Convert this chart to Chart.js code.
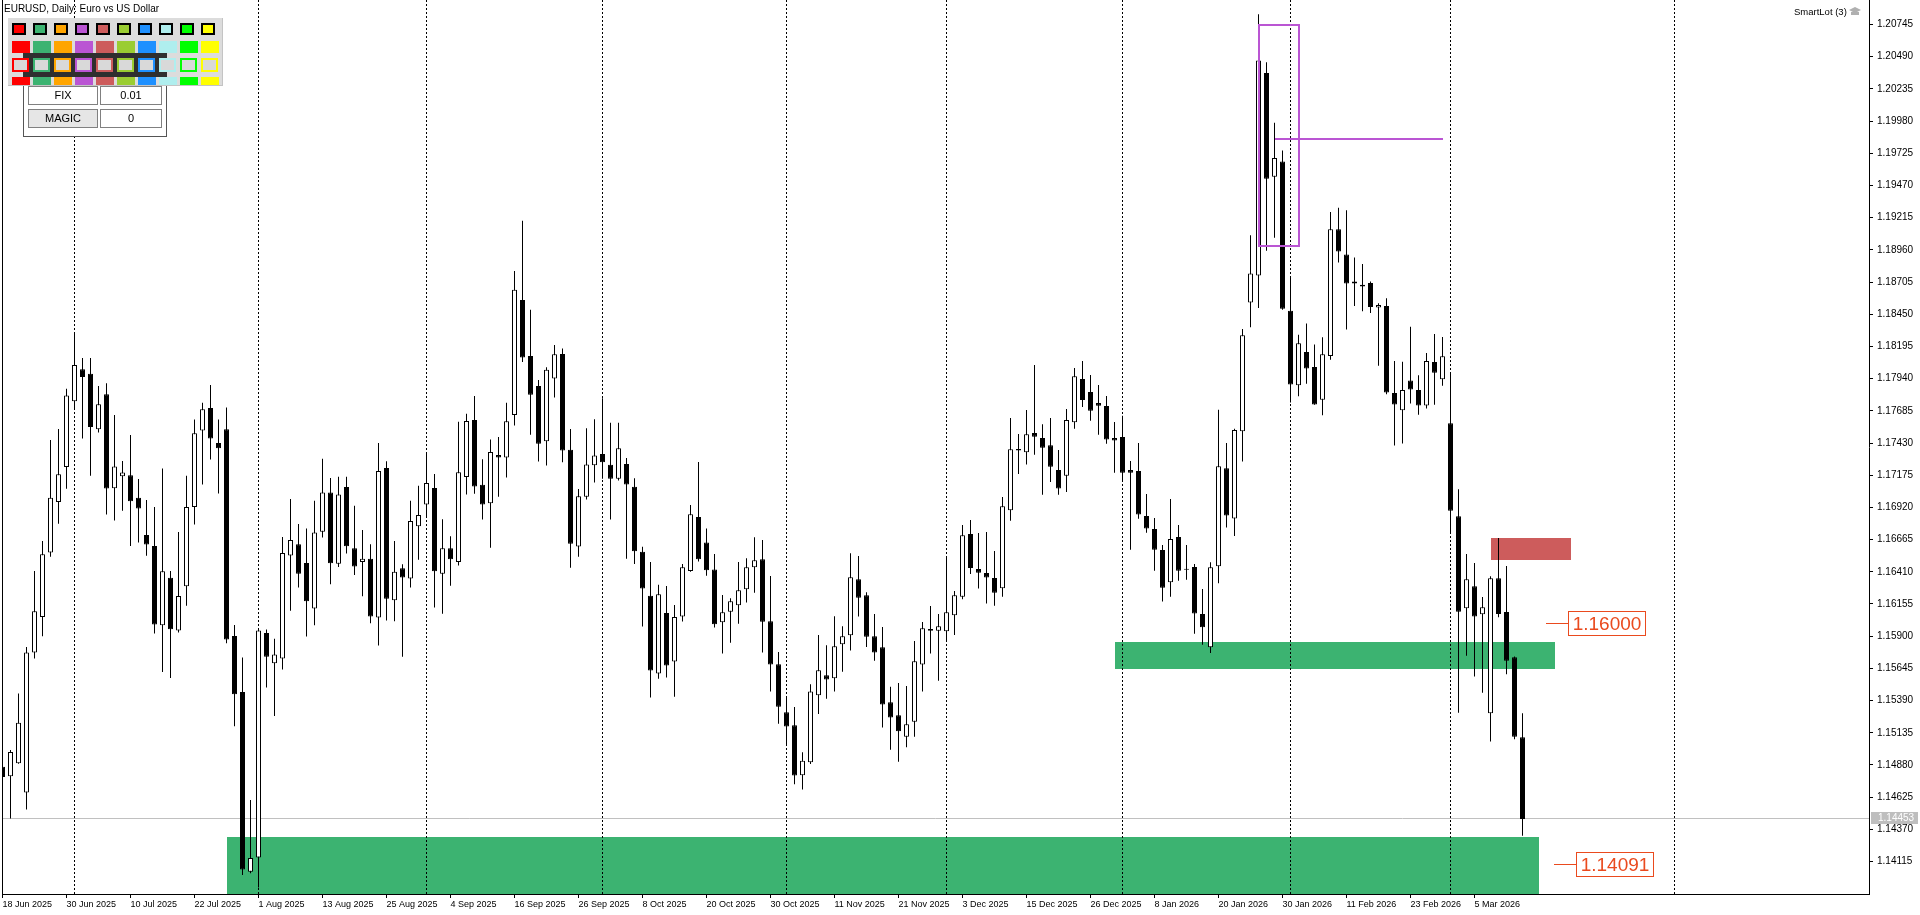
<!DOCTYPE html>
<html>
<head>
<meta charset="utf-8">
<title>EURUSD, Daily</title>
<script src="https://cdn.jsdelivr.net/npm/chart.js@4.4.1/dist/chart.umd.min.js"></script>
<style>
  html, body { margin: 0; padding: 0; background: #fff; }
  body { width: 1920px; height: 915px; position: relative; overflow: hidden; font-family: 'Liberation Sans', Arial, sans-serif; }
  #chart { position: absolute; left: 0; top: 0; }
  #title { position: absolute; left: 4px; top: 3px; font-size: 10px; line-height: 12px; color: #000; white-space: nowrap; }
  #smartlot { position: absolute; left: 1794px; top: 6px; font-size: 9.5px; line-height: 12px; color: #000; white-space: nowrap; }
  .btn { position: absolute; box-sizing: border-box; border: 1px solid #808080; background: #fff; font-size: 11px; text-align: center; color: #000; }
</style>
</head>
<body>
<canvas id="chart" width="1920" height="915"></canvas>
<div id="title">EURUSD, Daily: Euro vs US Dollar</div>
<div id="smartlot">SmartLot (3)</div>
<script>
// EURUSD daily candles, 18 Jun 2025 .. 13 Mar 2026 (bar index = position)
const opens = [
  1.14866,1.14790,1.14894,1.14662,1.15771,1.16052,1.16563,1.16962,1.17240,1.17760,
  1.18014,1.17978,1.17539,1.17816,1.17072,1.17166,1.17174,1.16996,1.16702,1.16614,
  1.15986,1.16362,1.15946,1.16295,1.16923,1.17530,1.17708,1.17431,1.17539,1.15901,
  1.15458,1.14034,1.14147,1.15926,1.15685,1.15724,1.16540,1.16629,1.16480,1.16120,
  1.16728,1.17039,1.16474,1.17082,1.16597,1.16488,1.16513,1.16049,1.17233,1.16184,
  1.16438,1.16357,1.16771,1.16943,1.17074,1.16395,1.16597,1.16488,1.17160,1.17612,
  1.17099,1.16953,1.17335,1.17315,1.17651,1.18563,1.18120,1.17881,1.17445,1.17942,
  1.18136,1.17377,1.16611,1.17005,1.17254,1.17344,1.17257,1.17147,1.17263,1.17083,
  1.16569,1.16220,1.15605,1.16084,1.15699,1.16055,1.16417,1.16844,1.16643,1.16429,
  1.16010,1.16094,1.16145,1.16272,1.16446,1.16509,1.16018,1.15678,1.15298,1.15195,
  1.14799,1.14902,1.15432,1.15591,1.15567,1.15836,1.15907,1.16351,1.16224,1.15900,
  1.15812,1.15377,1.15274,1.15104,1.15223,1.15675,1.15957,1.15944,1.15939,1.16066,
  1.16213,1.16710,1.16433,1.16401,1.16361,1.16280,1.16897,1.17383,1.17357,1.17510,
  1.17470,1.17412,1.17217,1.17171,1.17594,1.17937,1.17834,1.17747,1.17724,1.17470,
  1.17478,1.17217,1.17209,1.16852,1.16749,1.16583,1.16327,1.16686,1.16433,1.16448,
  1.16076,1.15813,1.16453,1.17230,1.16833,1.17523,1.18543,1.18756,1.20360,1.19540,
  1.19660,1.18477,1.17887,1.18150,1.18033,1.17773,1.18120,1.19123,1.18923,1.18710,
  1.18683,1.18697,1.18503,1.18516,1.17826,1.17689,1.17926,1.17849,1.17727,1.18072,
  1.17935,1.17587,1.16850,1.16121,1.16296,1.16074,1.15290,1.16359,1.16092,1.15733,
  1.15100
];
const highs = [
  1.14896,1.14999,1.15446,1.15814,1.16416,1.16654,1.17454,1.17542,1.17859,1.18309,
  1.18104,1.18104,1.17881,1.17904,1.17652,1.17287,1.17494,1.17146,1.16979,1.16923,
  1.17228,1.16416,1.16725,1.17171,1.17616,1.17748,1.17890,1.17616,1.17712,1.15989,
  1.15731,1.14603,1.15965,1.15953,1.15880,1.16686,1.16986,1.16788,1.16752,1.16972,
  1.17305,1.17152,1.17163,1.17163,1.16933,1.16742,1.16629,1.17431,1.17286,1.16654,
  1.16470,1.16972,1.17092,1.17358,1.17184,1.16827,1.16692,1.17598,1.17662,1.17803,
  1.17302,1.17457,1.17477,1.17748,1.18793,1.19190,1.18485,1.17929,1.18030,1.18207,
  1.18178,1.17541,1.17066,1.17548,1.17619,1.17784,1.17590,1.17590,1.17312,1.17150,
  1.16608,1.16488,1.16307,1.16297,1.16148,1.16471,1.16940,1.17280,1.16752,1.16551,
  1.16227,1.16201,1.16488,1.16517,1.16684,1.16662,1.16377,1.15775,1.15411,1.15340,
  1.14981,1.15519,1.15910,1.15828,1.16058,1.15979,1.16557,1.16536,1.16248,1.16076,
  1.15973,1.15500,1.15530,1.15506,1.15862,1.16013,1.16140,1.16076,1.16520,1.16258,
  1.16781,1.16821,1.16718,1.16726,1.16575,1.17003,1.17628,1.17502,1.17692,1.18048,
  1.17579,1.17628,1.17375,1.17700,1.18024,1.18080,1.17969,1.17890,1.17803,1.17597,
  1.17647,1.17288,1.17430,1.17027,1.16836,1.16623,1.16987,1.16781,1.16623,1.16472,
  1.16273,1.16486,1.17693,1.17430,1.17543,1.18333,1.19076,1.20827,1.20446,1.19966,
  1.19746,1.18753,1.18287,1.18376,1.18210,1.18267,1.19260,1.19293,1.19273,1.18900,
  1.18847,1.18710,1.18537,1.18577,1.18080,1.18073,1.18350,1.17967,1.18143,1.18294,
  1.18270,1.17983,1.17064,1.16551,1.16480,1.16211,1.16375,1.16678,1.16456,1.15740,
  1.15290
];
const lows = [
  1.14754,1.14456,1.14890,1.14527,1.15723,1.15899,1.16529,1.16790,1.17067,1.17692,
  1.17465,1.17171,1.17514,1.16863,1.16817,1.16894,1.16614,1.16642,1.16538,1.15921,
  1.15616,1.15568,1.15930,1.16142,1.16784,1.17101,1.17299,1.17030,1.15845,1.15186,
  1.14009,1.14023,1.13910,1.15494,1.15268,1.15636,1.16102,1.16286,1.15897,1.15986,
  1.16682,1.16311,1.16448,1.16555,1.16385,1.16216,1.16003,1.15827,1.16025,1.16018,
  1.15738,1.16286,1.16505,1.16844,1.16127,1.16078,1.16300,1.16459,1.17022,1.17028,
  1.16824,1.16600,1.17005,1.17156,1.17568,1.18072,1.17496,1.17283,1.17251,1.17790,
  1.17277,1.16442,1.16530,1.16982,1.17118,1.17147,1.16824,1.17134,1.16513,1.16471,
  1.15977,1.15414,1.15563,1.15572,1.15421,1.16016,1.16410,1.16491,1.16378,1.15968,
  1.15762,1.15849,1.15999,1.16166,1.16245,1.15770,1.15461,1.15207,1.15036,1.14727,
  1.14685,1.14888,1.15284,1.15405,1.15461,1.15619,1.15786,1.16055,1.15815,1.15706,
  1.15176,1.15001,1.14906,1.15020,1.15104,1.15461,1.15762,1.15548,1.15865,1.15910,
  1.16193,1.16393,1.16277,1.16158,1.16142,1.16213,1.16815,1.17185,1.17259,1.17338,
  1.17021,1.17122,1.17021,1.17042,1.17544,1.17716,1.17607,1.17496,1.17425,1.17195,
  1.17124,1.16585,1.16831,1.16720,1.16419,1.16174,1.16213,1.16340,1.16348,1.15920,
  1.15833,1.15766,1.16320,1.16760,1.16693,1.17283,1.18347,1.18500,1.18953,1.19056,
  1.18486,1.17750,1.17800,1.17900,1.17733,1.17650,1.18090,1.18860,1.18330,1.18516,
  1.18474,1.18460,1.18043,1.17816,1.17410,1.17427,1.17743,1.17653,1.17703,1.17734,
  1.17884,1.16715,1.15294,1.15746,1.15580,1.15453,1.15065,1.16050,1.15599,1.15084,
  1.14320
];
const closes = [
  1.14784,1.14982,1.15214,1.15771,1.16097,1.16549,1.16996,1.17183,1.17807,1.18048,
  1.17952,1.17556,1.17737,1.17069,1.17245,1.17197,1.16968,1.16911,1.16626,1.15992,
  1.16414,1.15955,1.16218,1.16923,1.17508,1.17697,1.17465,1.17389,1.15873,1.15440,
  1.14052,1.14144,1.15946,1.15738,1.15755,1.16558,1.16661,1.16395,1.16177,1.16721,
  1.17039,1.16477,1.17022,1.16612,1.16452,1.16513,1.16056,1.17209,1.16197,1.16410,
  1.16364,1.16813,1.16859,1.17114,1.16414,1.16597,1.16509,1.17198,1.17605,1.17085,
  1.16943,1.17358,1.17315,1.17603,1.18644,1.18107,1.17813,1.17425,1.18010,1.18133,
  1.17370,1.16633,1.17008,1.17260,1.17331,1.17277,1.17147,1.17389,1.17102,1.16572,
  1.16277,1.15628,1.16232,1.15667,1.16052,1.16446,1.16866,1.16510,1.16423,1.15994,
  1.16090,1.16177,1.16264,1.16446,1.16501,1.16015,1.15675,1.15342,1.15184,1.14796,
  1.14914,1.15461,1.15630,1.15556,1.15820,1.15900,1.16367,1.16205,1.15896,1.15770,
  1.15358,1.15255,1.15147,1.15203,1.15702,1.15963,1.15944,1.15979,1.16090,1.16224,
  1.16699,1.16440,1.16403,1.16364,1.16245,1.16929,1.17381,1.17370,1.17499,1.17480,
  1.17393,1.17243,1.17069,1.17613,1.17959,1.17771,1.17686,1.17726,1.17457,1.17449,
  1.17195,1.17195,1.16863,1.16752,1.16585,1.16284,1.16670,1.16419,1.16427,1.16079,
  1.15970,1.16447,1.17247,1.16856,1.17533,1.18283,1.18773,1.20460,1.19523,1.19687,
  1.18493,1.17893,1.18220,1.18020,1.17736,1.18133,1.19123,1.18946,1.18693,1.18693,
  1.18670,1.18507,1.18523,1.17830,1.17736,1.17849,1.17853,1.17727,1.18080,1.17987,
  1.18117,1.16894,1.16094,1.16351,1.16055,1.16129,1.16359,1.16076,1.15706,1.15104,
  1.14453
];

// time axis labels every 8 bars
const dateLabels = ['18 Jun 2025','30 Jun 2025','10 Jul 2025','22 Jul 2025','1 Aug 2025','13 Aug 2025',
  '25 Aug 2025','4 Sep 2025','16 Sep 2025','26 Sep 2025','8 Oct 2025','20 Oct 2025','30 Oct 2025',
  '11 Nov 2025','21 Nov 2025','3 Dec 2025','15 Dec 2025','26 Dec 2025','8 Jan 2026','20 Jan 2026',
  '30 Jan 2026','11 Feb 2026','23 Feb 2026','5 Mar 2026'];
const dateLabelBars = dateLabels.map((_, i) => i * 8);
// first bar of each month (dotted separators)
const monthBars = [9, 32, 53, 75, 98, 118, 140, 161, 181, 209];
// price axis
const priceTicks = [];
for (let k = 0; k <= 26; k++) priceTicks.push(+(1.14115 + k * 0.00255).toFixed(5));
const priceMin = 1.13858, priceMax = 1.20939;
const lastPrice = 1.14453;

// rectangles drawn on the chart (bar from, bar to, upper price, lower price)
const zoneFrom = [28, 139, 186];
const zoneTo = [192, 194, 196];
const zoneHigh = [1.14312, 1.15856, 1.16679];
const zoneLow = [1.13800, 1.15642, 1.16505];
const zoneColors = ['#3CB371', '#3CB371', '#CD5C5C'];
// purple box and level
const boxFrom = 157, boxTo = 162, boxHigh = 1.20743, boxLow = 1.18994;
const levelFrom = 159, levelTo = 180, levelPrice = 1.19840;
// price labels on the right
const labelPrices = [1.16000, 1.14091];
const labelBars = [193, 194];

const FONT = "'Liberation Sans', Arial, sans-serif";
const barCount = closes.length;
const idx = [...Array(barCount).keys()];

const overlay = {
  id: 'overlay',
  beforeDatasetsDraw(chart) {
    const { ctx, chartArea: a, scales: { x, y } } = chart;
    ctx.save();
    ctx.beginPath();
    ctx.rect(a.left, a.top, a.right - a.left, a.bottom - a.top);
    ctx.clip();
    zoneFrom.forEach((f, k) => {
      const x0 = Math.round(x.getPixelForValue(f)), x1 = Math.round(x.getPixelForValue(zoneTo[k]));
      const y0 = Math.round(y.getPixelForValue(zoneHigh[k])), y1 = Math.round(y.getPixelForValue(zoneLow[k]));
      ctx.fillStyle = zoneColors[k];
      ctx.fillRect(x0, y0, x1 - x0, y1 - y0);
    });
    ctx.strokeStyle = '#000';
    ctx.lineWidth = 1;
    ctx.setLineDash([2, 2]);
    monthBars.forEach(b => {
      const px = Math.floor(x.getPixelForValue(b)) + 0.5;
      ctx.beginPath();
      ctx.moveTo(px, a.top);
      ctx.lineTo(px, a.bottom);
      ctx.stroke();
    });
    ctx.setLineDash([]);
    const py = Math.floor(y.getPixelForValue(lastPrice)) + 0.5;
    ctx.strokeStyle = '#C0C0C0';
    ctx.beginPath();
    ctx.moveTo(a.left, py);
    ctx.lineTo(a.right, py);
    ctx.stroke();
    ctx.restore();
  },
  afterDatasetsDraw(chart) {
    const { ctx, chartArea: a, scales: { x, y } } = chart;
    ctx.save();
    // purple rectangle and level line
    ctx.strokeStyle = '#BA55D3';
    ctx.lineWidth = 2;
    const bx0 = Math.round(x.getPixelForValue(boxFrom)), bx1 = Math.round(x.getPixelForValue(boxTo));
    const by0 = Math.round(y.getPixelForValue(boxHigh)), by1 = Math.round(y.getPixelForValue(boxLow));
    ctx.strokeRect(bx0, by0, bx1 - bx0, by1 - by0);
    const ly = Math.round(y.getPixelForValue(levelPrice));
    ctx.beginPath();
    ctx.moveTo(Math.round(x.getPixelForValue(levelFrom)), ly);
    ctx.lineTo(Math.round(x.getPixelForValue(levelTo)), ly);
    ctx.stroke();
    // price labels
    ctx.lineWidth = 1;
    ctx.font = '19px ' + FONT;
    ctx.textAlign = 'center';
    ctx.textBaseline = 'middle';
    labelPrices.forEach((p, k) => {
      const lx = Math.floor(x.getPixelForValue(labelBars[k]));
      const yy = Math.floor(y.getPixelForValue(p)) + 0.5;
      ctx.strokeStyle = '#EA4A1E';
      ctx.beginPath();
      ctx.moveTo(lx, yy);
      ctx.lineTo(lx + 22, yy);
      ctx.stroke();
      ctx.fillStyle = '#fff';
      ctx.fillRect(lx + 22, yy - 12, 77, 24);
      ctx.strokeRect(lx + 22.5, yy - 12, 77, 24);
      ctx.fillStyle = '#EA4A1E';
      ctx.fillText(p.toFixed(5), lx + 61, yy + 1);
    });
    ctx.restore();
  },
  afterDraw(chart) {
    const { ctx, chartArea: a, scales: { y } } = chart;
    ctx.save();
    ctx.strokeStyle = '#000';
    ctx.lineWidth = 1;
    ctx.beginPath();
    ctx.moveTo(2.5, a.top);
    ctx.lineTo(2.5, a.bottom);
    ctx.stroke();
    // current price tag on the axis
    const py = Math.floor(y.getPixelForValue(lastPrice));
    ctx.fillStyle = '#BEBEBE';
    ctx.fillRect(a.right + 2, py - 6, 47, 12);
    ctx.fillStyle = '#fff';
    ctx.font = '10px ' + FONT;
    ctx.textAlign = 'left';
    ctx.textBaseline = 'middle';
    ctx.fillText(lastPrice.toFixed(5), a.right + 9, py + 0.5);
    // small cap icon next to SmartLot
    ctx.fillStyle = '#B0B0B0';
    ctx.beginPath();
    ctx.moveTo(1849, 10); ctx.lineTo(1855, 7); ctx.lineTo(1861, 10); ctx.lineTo(1855, 13);
    ctx.closePath();
    ctx.fill();
    ctx.fillRect(1851, 12, 8, 3);
    ctx.restore();
  }
};

new Chart(document.getElementById('chart'), {
  type: 'bar',
  data: {
    datasets: [
      {
        label: 'range',
        data: idx.map(i => ({ x: i, y: [lows[i], highs[i]] })),
        backgroundColor: '#000',
        borderWidth: 0,
        barThickness: 1,
        grouped: false,
        inflateAmount: 0,
        order: 2
      },
      {
        label: 'body',
        data: idx.map(i => ({ x: i, y: [opens[i], closes[i]] })),
        backgroundColor: idx.map(i => closes[i] >= opens[i] ? '#fff' : '#000'),
        borderColor: '#000',
        borderWidth: 1,
        borderSkipped: false,
        barThickness: 5,
        minBarLength: 1,
        grouped: false,
        inflateAmount: 0,
        order: 1
      }
    ]
  },
  options: {
    responsive: false,
    animation: false,
    devicePixelRatio: 1,
    events: [],
    layout: { padding: { left: 2.5, right: 0, top: 0, bottom: 0 } },
    plugins: { legend: { display: false }, tooltip: { enabled: false } },
    scales: {
      x: {
        type: 'linear',
        min: 0,
        max: (1869 - 2.5) / 8,
        offset: false,
        afterBuildTicks: s => { s.ticks = dateLabelBars.map(v => ({ value: v })); },
        afterFit: s => { s.height = 21; s.paddingLeft = 0; s.paddingRight = 0; },
        grid: { drawOnChartArea: false, offset: false, tickLength: 4, color: '#000' },
        border: { display: true, color: '#000', width: 1 },
        ticks: {
          align: 'start', maxRotation: 0, autoSkip: false, padding: 1,
          color: '#000', font: { family: FONT, size: 9 },
          callback: (v, i) => dateLabels[i]
        }
      },
      y: {
        position: 'right',
        min: priceMin,
        max: priceMax,
        afterBuildTicks: s => { s.ticks = priceTicks.map(v => ({ value: v })); },
        afterFit: s => { s.width = 51; s.paddingTop = 0; s.paddingBottom = 0; },
        grid: { drawOnChartArea: false, tickLength: 4, color: '#000' },
        border: { display: true, color: '#000', width: 1 },
        ticks: {
          autoSkip: false, padding: 4, color: '#000',
          font: { family: FONT, size: 10 },
          callback: v => v.toFixed(5)
        }
      }
    }
  },
  plugins: [overlay]
});

// trade panel in the top-left corner
const palette = ['#FF0000','#3CB371','#FFA500','#BA55D3','#CD5C5C','#9ACD32','#1E90FF','#AFEEEE','#00FF00','#FFFF00'];
function block(l, t, w, h, css, text) {
  const d = document.createElement('div');
  d.style.cssText = `position:absolute;box-sizing:border-box;left:${l}px;top:${t}px;width:${w}px;height:${h}px;${css || ''}`;
  if (text !== undefined) d.textContent = text;
  document.body.appendChild(d);
  return d;
}
block(23, 77, 144, 60, 'background:#fff;border:1px solid #555');
const btn = 'background:#fff;border:1px solid #808080;font:11px ' + FONT + ';text-align:center;line-height:17px;color:#000';
block(28, 86, 70, 19, btn, 'FIX');
block(100, 86, 62, 19, btn, '0.01');
block(28, 109, 70, 19, btn + ';background:#E6E6E6', 'MAGIC');
block(100, 109, 62, 19, btn, '0');
block(8, 18, 215, 68, 'background:#DCDCDC;border-right:1px solid #C4C4C4;border-bottom:1px solid #C4C4C4');
block(23, 53, 144, 24, 'background:#2F2F2F');
palette.forEach((c, k) => {
  const l = 12 + 21 * k;
  block(l, 23, 14, 12, `background:${c};border:2px solid #000`);
  block(l, 41, 18, 12, `background:${c}`);
  block(l, 58, 17, 14, `background:#D9D9D9;border:2px solid ${c}`);
  block(l, 77, 18, 8, `background:${c}`);
});
</script>
</body>
</html>
